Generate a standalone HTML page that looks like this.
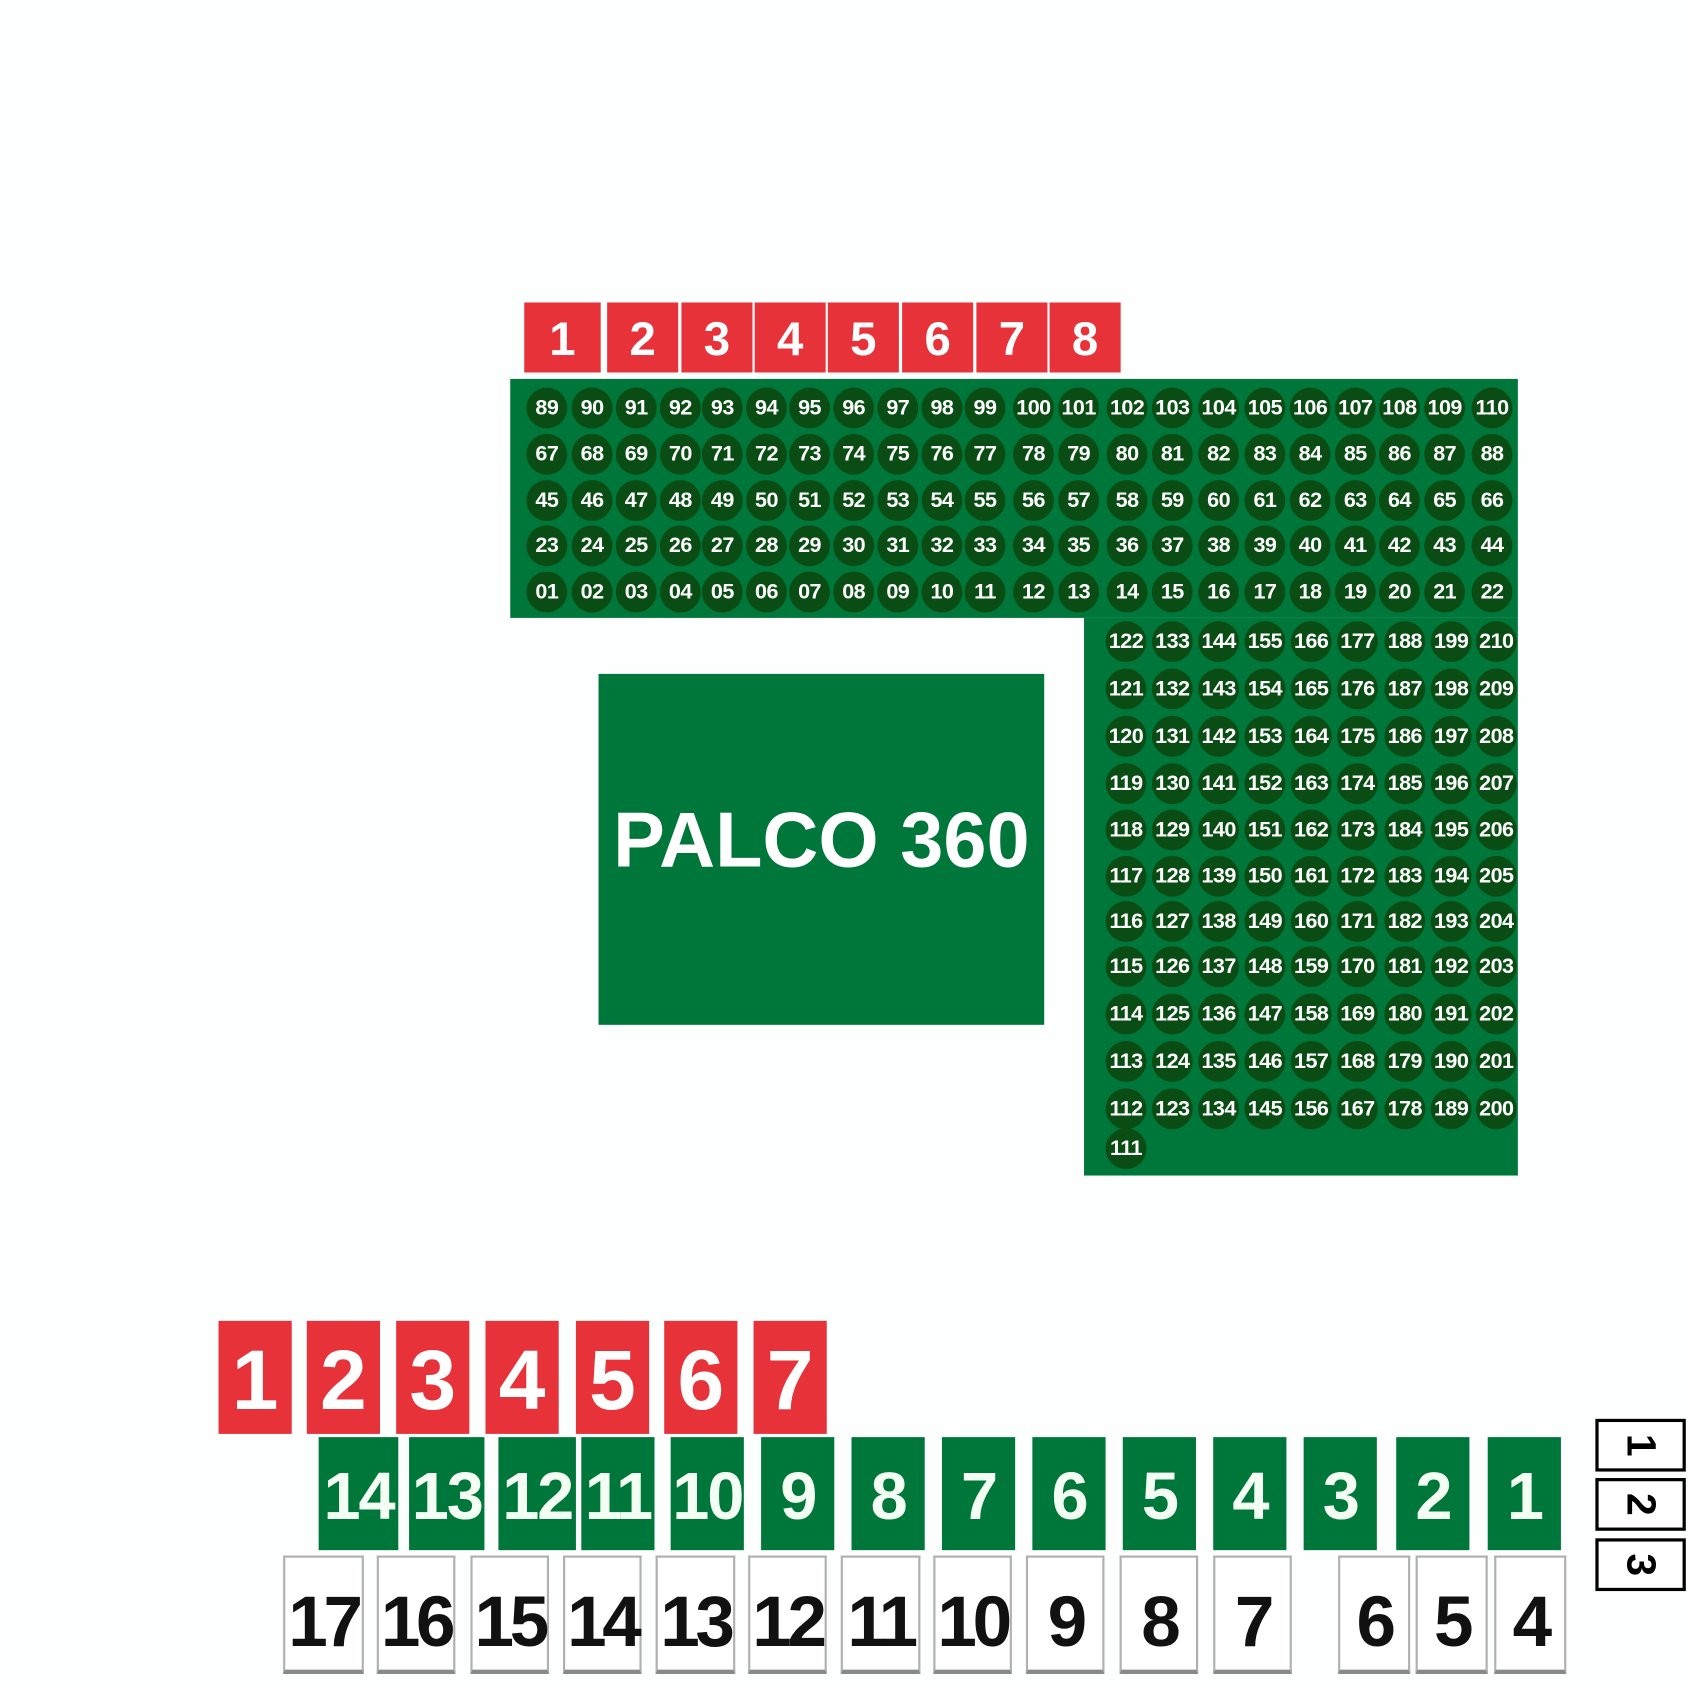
<!DOCTYPE html>
<html><head><meta charset="utf-8"><style>
html,body{margin:0;padding:0;background:#fdfefe;}
body{width:1688px;height:1688px;overflow:hidden;position:relative;}
#s{position:absolute;left:0;top:0;width:1568px;height:1568px;transform:scale(1.0765);transform-origin:0 0;font-family:"Liberation Sans",sans-serif;}
.g{position:absolute;background:#00773a;}
.r{position:absolute;background:#e8323a;color:#fff;font-weight:bold;text-align:center;}
i{position:absolute;font-style:normal;width:38px;height:38px;margin:-19px 0 0 -19px;border-radius:50%;background:#0a4d14;color:#fff;font-weight:bold;font-size:20px;line-height:38px;text-align:center;letter-spacing:-0.5px;white-space:nowrap;}
.tb{position:absolute;top:281px;height:65px;width:66px;font-size:44px;line-height:70px;}
.rb{position:absolute;top:1227px;height:105px;width:68px;font-size:78px;line-height:110px;}
.gb{position:absolute;top:1335px;height:105px;width:68px;background:#00773a;color:#f4fff4;font-weight:bold;font-size:62px;line-height:112px;text-align:center;letter-spacing:-2px;}
.wb{position:absolute;top:1445px;height:110px;width:68px;background:#fff;border:2px solid #b0b0b0;border-bottom:4px solid #888;color:#111;font-weight:bold;font-size:66px;line-height:118px;text-align:center;letter-spacing:-4px;box-sizing:border-box;}
.kb{position:absolute;left:1482px;width:84px;height:49px;border:3px solid #000;box-sizing:border-box;background:#fff;font-weight:bold;font-size:38px;text-align:center;line-height:43px;}
.kb span{display:inline-block;transform:rotate(90deg);}
</style></head><body><div id="s">
<div class="r tb" style="left:487px;width:71px">1</div><div class="r tb" style="left:564px">2</div><div class="r tb" style="left:633px">3</div><div class="r tb" style="left:701px">4</div><div class="r tb" style="left:769px">5</div><div class="r tb" style="left:838px">6</div><div class="r tb" style="left:907px">7</div><div class="r tb" style="left:975px">8</div>
<div class="g" style="left:474px;top:352px;width:936px;height:222px"></div>
<div class="g" style="left:1007px;top:574px;width:403px;height:518px"></div>
<div class="g" style="left:556px;top:626px;width:414px;height:326px;color:#fff;font-weight:bold;font-size:72px;line-height:310px;text-align:center;white-space:nowrap;">PALCO 360</div>
<i style="left:508px;top:379px">89</i><i style="left:550px;top:379px">90</i><i style="left:591px;top:379px">91</i><i style="left:632px;top:379px">92</i><i style="left:671px;top:379px">93</i><i style="left:712px;top:379px">94</i><i style="left:752px;top:379px">95</i><i style="left:793px;top:379px">96</i><i style="left:834px;top:379px">97</i><i style="left:875px;top:379px">98</i><i style="left:915px;top:379px">99</i><i style="left:960px;top:379px">100</i><i style="left:1002px;top:379px">101</i><i style="left:1047px;top:379px">102</i><i style="left:1089px;top:379px">103</i><i style="left:1132px;top:379px">104</i><i style="left:1175px;top:379px">105</i><i style="left:1217px;top:379px">106</i><i style="left:1259px;top:379px">107</i><i style="left:1300px;top:379px">108</i><i style="left:1342px;top:379px">109</i><i style="left:1386px;top:379px">110</i>
<i style="left:508px;top:422px">67</i><i style="left:550px;top:422px">68</i><i style="left:591px;top:422px">69</i><i style="left:632px;top:422px">70</i><i style="left:671px;top:422px">71</i><i style="left:712px;top:422px">72</i><i style="left:752px;top:422px">73</i><i style="left:793px;top:422px">74</i><i style="left:834px;top:422px">75</i><i style="left:875px;top:422px">76</i><i style="left:915px;top:422px">77</i><i style="left:960px;top:422px">78</i><i style="left:1002px;top:422px">79</i><i style="left:1047px;top:422px">80</i><i style="left:1089px;top:422px">81</i><i style="left:1132px;top:422px">82</i><i style="left:1175px;top:422px">83</i><i style="left:1217px;top:422px">84</i><i style="left:1259px;top:422px">85</i><i style="left:1300px;top:422px">86</i><i style="left:1342px;top:422px">87</i><i style="left:1386px;top:422px">88</i>
<i style="left:508px;top:465px">45</i><i style="left:550px;top:465px">46</i><i style="left:591px;top:465px">47</i><i style="left:632px;top:465px">48</i><i style="left:671px;top:465px">49</i><i style="left:712px;top:465px">50</i><i style="left:752px;top:465px">51</i><i style="left:793px;top:465px">52</i><i style="left:834px;top:465px">53</i><i style="left:875px;top:465px">54</i><i style="left:915px;top:465px">55</i><i style="left:960px;top:465px">56</i><i style="left:1002px;top:465px">57</i><i style="left:1047px;top:465px">58</i><i style="left:1089px;top:465px">59</i><i style="left:1132px;top:465px">60</i><i style="left:1175px;top:465px">61</i><i style="left:1217px;top:465px">62</i><i style="left:1259px;top:465px">63</i><i style="left:1300px;top:465px">64</i><i style="left:1342px;top:465px">65</i><i style="left:1386px;top:465px">66</i>
<i style="left:508px;top:507px">23</i><i style="left:550px;top:507px">24</i><i style="left:591px;top:507px">25</i><i style="left:632px;top:507px">26</i><i style="left:671px;top:507px">27</i><i style="left:712px;top:507px">28</i><i style="left:752px;top:507px">29</i><i style="left:793px;top:507px">30</i><i style="left:834px;top:507px">31</i><i style="left:875px;top:507px">32</i><i style="left:915px;top:507px">33</i><i style="left:960px;top:507px">34</i><i style="left:1002px;top:507px">35</i><i style="left:1047px;top:507px">36</i><i style="left:1089px;top:507px">37</i><i style="left:1132px;top:507px">38</i><i style="left:1175px;top:507px">39</i><i style="left:1217px;top:507px">40</i><i style="left:1259px;top:507px">41</i><i style="left:1300px;top:507px">42</i><i style="left:1342px;top:507px">43</i><i style="left:1386px;top:507px">44</i>
<i style="left:508px;top:550px">01</i><i style="left:550px;top:550px">02</i><i style="left:591px;top:550px">03</i><i style="left:632px;top:550px">04</i><i style="left:671px;top:550px">05</i><i style="left:712px;top:550px">06</i><i style="left:752px;top:550px">07</i><i style="left:793px;top:550px">08</i><i style="left:834px;top:550px">09</i><i style="left:875px;top:550px">10</i><i style="left:915px;top:550px">11</i><i style="left:960px;top:550px">12</i><i style="left:1002px;top:550px">13</i><i style="left:1047px;top:550px">14</i><i style="left:1089px;top:550px">15</i><i style="left:1132px;top:550px">16</i><i style="left:1175px;top:550px">17</i><i style="left:1217px;top:550px">18</i><i style="left:1259px;top:550px">19</i><i style="left:1300px;top:550px">20</i><i style="left:1342px;top:550px">21</i><i style="left:1386px;top:550px">22</i>
<i style="left:1046px;top:596px">122</i><i style="left:1089px;top:596px">133</i><i style="left:1132px;top:596px">144</i><i style="left:1175px;top:596px">155</i><i style="left:1218px;top:596px">166</i><i style="left:1261px;top:596px">177</i><i style="left:1305px;top:596px">188</i><i style="left:1348px;top:596px">199</i><i style="left:1390px;top:596px">210</i>
<i style="left:1046px;top:640px">121</i><i style="left:1089px;top:640px">132</i><i style="left:1132px;top:640px">143</i><i style="left:1175px;top:640px">154</i><i style="left:1218px;top:640px">165</i><i style="left:1261px;top:640px">176</i><i style="left:1305px;top:640px">187</i><i style="left:1348px;top:640px">198</i><i style="left:1390px;top:640px">209</i>
<i style="left:1046px;top:684px">120</i><i style="left:1089px;top:684px">131</i><i style="left:1132px;top:684px">142</i><i style="left:1175px;top:684px">153</i><i style="left:1218px;top:684px">164</i><i style="left:1261px;top:684px">175</i><i style="left:1305px;top:684px">186</i><i style="left:1348px;top:684px">197</i><i style="left:1390px;top:684px">208</i>
<i style="left:1046px;top:728px">119</i><i style="left:1089px;top:728px">130</i><i style="left:1132px;top:728px">141</i><i style="left:1175px;top:728px">152</i><i style="left:1218px;top:728px">163</i><i style="left:1261px;top:728px">174</i><i style="left:1305px;top:728px">185</i><i style="left:1348px;top:728px">196</i><i style="left:1390px;top:728px">207</i>
<i style="left:1046px;top:771px">118</i><i style="left:1089px;top:771px">129</i><i style="left:1132px;top:771px">140</i><i style="left:1175px;top:771px">151</i><i style="left:1218px;top:771px">162</i><i style="left:1261px;top:771px">173</i><i style="left:1305px;top:771px">184</i><i style="left:1348px;top:771px">195</i><i style="left:1390px;top:771px">206</i>
<i style="left:1046px;top:814px">117</i><i style="left:1089px;top:814px">128</i><i style="left:1132px;top:814px">139</i><i style="left:1175px;top:814px">150</i><i style="left:1218px;top:814px">161</i><i style="left:1261px;top:814px">172</i><i style="left:1305px;top:814px">183</i><i style="left:1348px;top:814px">194</i><i style="left:1390px;top:814px">205</i>
<i style="left:1046px;top:856px">116</i><i style="left:1089px;top:856px">127</i><i style="left:1132px;top:856px">138</i><i style="left:1175px;top:856px">149</i><i style="left:1218px;top:856px">160</i><i style="left:1261px;top:856px">171</i><i style="left:1305px;top:856px">182</i><i style="left:1348px;top:856px">193</i><i style="left:1390px;top:856px">204</i>
<i style="left:1046px;top:898px">115</i><i style="left:1089px;top:898px">126</i><i style="left:1132px;top:898px">137</i><i style="left:1175px;top:898px">148</i><i style="left:1218px;top:898px">159</i><i style="left:1261px;top:898px">170</i><i style="left:1305px;top:898px">181</i><i style="left:1348px;top:898px">192</i><i style="left:1390px;top:898px">203</i>
<i style="left:1046px;top:942px">114</i><i style="left:1089px;top:942px">125</i><i style="left:1132px;top:942px">136</i><i style="left:1175px;top:942px">147</i><i style="left:1218px;top:942px">158</i><i style="left:1261px;top:942px">169</i><i style="left:1305px;top:942px">180</i><i style="left:1348px;top:942px">191</i><i style="left:1390px;top:942px">202</i>
<i style="left:1046px;top:986px">113</i><i style="left:1089px;top:986px">124</i><i style="left:1132px;top:986px">135</i><i style="left:1175px;top:986px">146</i><i style="left:1218px;top:986px">157</i><i style="left:1261px;top:986px">168</i><i style="left:1305px;top:986px">179</i><i style="left:1348px;top:986px">190</i><i style="left:1390px;top:986px">201</i>
<i style="left:1046px;top:1030px">112</i><i style="left:1089px;top:1030px">123</i><i style="left:1132px;top:1030px">134</i><i style="left:1175px;top:1030px">145</i><i style="left:1218px;top:1030px">156</i><i style="left:1261px;top:1030px">167</i><i style="left:1305px;top:1030px">178</i><i style="left:1348px;top:1030px">189</i><i style="left:1390px;top:1030px">200</i>
<i style="left:1046px;top:1067px">111</i>
<div class="r rb" style="left:203px">1</div><div class="r rb" style="left:285px">2</div><div class="r rb" style="left:368px">3</div><div class="r rb" style="left:451px">4</div><div class="r rb" style="left:535px">5</div><div class="r rb" style="left:617px">6</div><div class="r rb" style="left:700px">7</div>
<div class="gb" style="left:296px;width:74px">14</div><div class="gb" style="left:380px;width:70px">13</div><div class="gb" style="left:463px;width:72px">12</div><div class="gb" style="left:540px;width:68px">11</div><div class="gb" style="left:623px;width:68px">10</div><div class="gb" style="left:707px">9</div><div class="gb" style="left:791px">8</div><div class="gb" style="left:875px">7</div><div class="gb" style="left:959px">6</div><div class="gb" style="left:1043px">5</div><div class="gb" style="left:1127px">4</div><div class="gb" style="left:1211px">3</div><div class="gb" style="left:1297px">2</div><div class="gb" style="left:1382px">1</div>
<div class="wb" style="left:263px;width:75px">17</div><div class="wb" style="left:350px;width:73px">16</div><div class="wb" style="left:437px;width:73px">15</div><div class="wb" style="left:523px;width:73px">14</div><div class="wb" style="left:609px;width:74px">13</div><div class="wb" style="left:695px;width:73px">12</div><div class="wb" style="left:781px;width:74px">11</div><div class="wb" style="left:867px;width:73px">10</div><div class="wb" style="left:953px;width:73px">9</div><div class="wb" style="left:1040px;width:73px">8</div><div class="wb" style="left:1127px;width:73px">7</div><div class="wb" style="left:1243px;width:67px">6</div><div class="wb" style="left:1315px;width:67px">5</div><div class="wb" style="left:1388px;width:67px">4</div>
<div class="kb" style="top:1318px"><span>1</span></div><div class="kb" style="top:1373px"><span>2</span></div><div class="kb" style="top:1429px"><span>3</span></div>
</div></body></html>
